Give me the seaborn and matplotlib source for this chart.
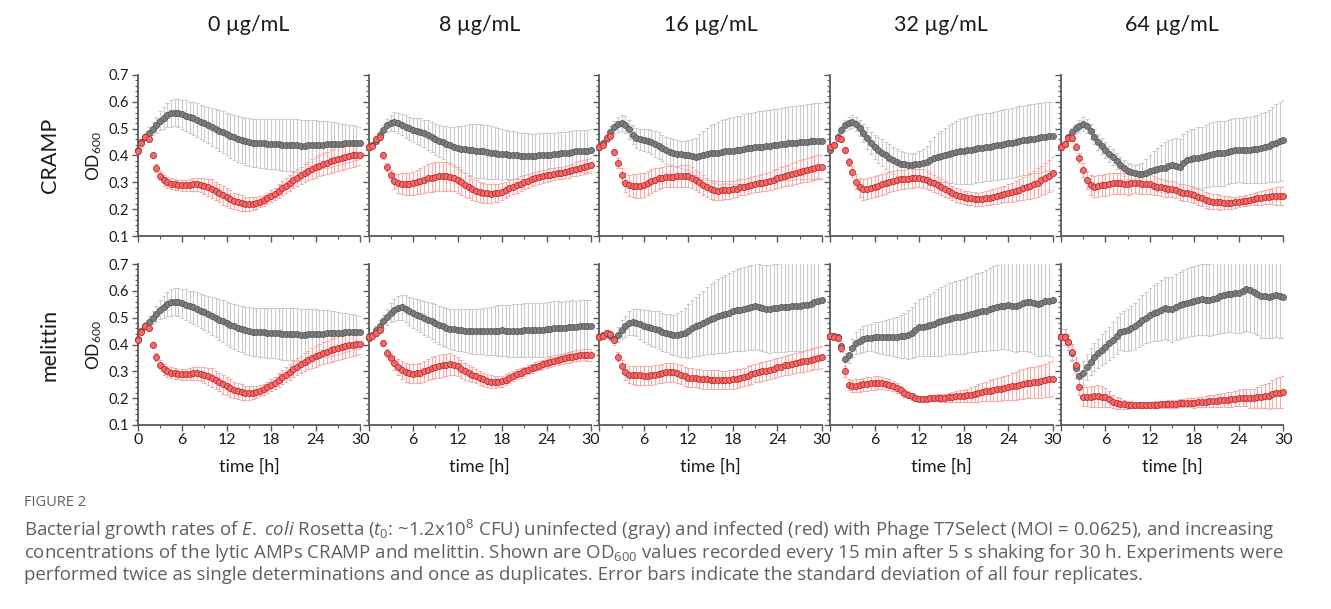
import numpy as np
import pandas as pd
import seaborn as sns
import matplotlib.pyplot as plt
from matplotlib.ticker import MultipleLocator

sns.set_style("ticks")
plt.rcParams['font.family'] = ['Lato', 'DejaVu Sans']
plt.rcParams['mathtext.fontset'] = 'custom'
plt.rcParams['mathtext.rm'] = 'Open Sans'
plt.rcParams['mathtext.it'] = 'Open Sans:italic'

# time points (h), one reading every 30 min
hours = np.arange(0, 30.5, 0.5)

concentrations = ["0 µg/mL", "8 µg/mL", "16 µg/mL", "32 µg/mL", "64 µg/mL"]
amps = ["CRAMP", "melittin"]

# ---- 0 ug/mL (same control for both AMPs) ----
gray_0 = [0.420, 0.450, 0.470, 0.485, 0.500, 0.515, 0.530, 0.540, 0.550, 0.557, 0.560,
          0.558, 0.553, 0.548, 0.543, 0.538, 0.532, 0.526, 0.520, 0.513, 0.506,
          0.500, 0.493, 0.486, 0.480, 0.474, 0.468, 0.462, 0.457, 0.453, 0.450,
          0.448, 0.447, 0.446, 0.445, 0.444, 0.443, 0.442, 0.441, 0.440, 0.440,
          0.439, 0.438, 0.438, 0.437, 0.437, 0.438, 0.438, 0.439, 0.440, 0.440,
          0.441, 0.442, 0.442, 0.443, 0.444, 0.445, 0.445, 0.446, 0.447, 0.447]
gray_0_sd = [0.005, 0.010, 0.015, 0.020, 0.025, 0.030, 0.035, 0.040, 0.045, 0.050, 0.050,
             0.052, 0.055, 0.057, 0.058, 0.060, 0.062, 0.064, 0.066, 0.068, 0.070,
             0.072, 0.075, 0.078, 0.080, 0.082, 0.083, 0.085, 0.086, 0.087, 0.088,
             0.089, 0.090, 0.091, 0.092, 0.093, 0.094, 0.094, 0.095, 0.096, 0.096,
             0.097, 0.097, 0.097, 0.097, 0.096, 0.095, 0.094, 0.092, 0.090, 0.088,
             0.086, 0.084, 0.081, 0.078, 0.075, 0.072, 0.069, 0.066, 0.063, 0.060]
red_0 = [0.415, 0.445, 0.470, 0.460, 0.400, 0.355, 0.325, 0.308, 0.300, 0.295, 0.292,
         0.290, 0.289, 0.289, 0.290, 0.292, 0.293, 0.291, 0.287, 0.282, 0.276,
         0.268, 0.260, 0.252, 0.245, 0.238, 0.232, 0.227, 0.223, 0.221, 0.220,
         0.221, 0.224, 0.228, 0.233, 0.240, 0.248, 0.257, 0.267, 0.278, 0.288,
         0.298, 0.308, 0.317, 0.326, 0.334, 0.342, 0.349, 0.356, 0.362, 0.368,
         0.373, 0.378, 0.383, 0.387, 0.391, 0.395, 0.398, 0.400, 0.402, 0.403]
red_0_sd = [0.010, 0.010, 0.010, 0.010, 0.010, 0.015, 0.018, 0.020, 0.020, 0.020, 0.020,
            0.020, 0.020, 0.021, 0.022, 0.023, 0.025, 0.027, 0.030, 0.032, 0.035,
            0.035, 0.035, 0.035, 0.035, 0.033, 0.030, 0.029, 0.028, 0.026, 0.025,
            0.024, 0.022, 0.021, 0.020, 0.021, 0.022, 0.023, 0.025, 0.027, 0.028,
            0.029, 0.030, 0.031, 0.032, 0.033, 0.035, 0.037, 0.038, 0.039, 0.040,
            0.041, 0.042, 0.043, 0.044, 0.044, 0.044, 0.043, 0.042, 0.041, 0.040]

# ---- CRAMP ----
gray_cramp8 = [0.430, 0.440, 0.455, 0.475, 0.495, 0.512, 0.522, 0.526, 0.522, 0.515, 0.508,
               0.501, 0.495, 0.492, 0.488, 0.482, 0.476, 0.468, 0.461, 0.455, 0.449,
               0.443, 0.438, 0.433, 0.429, 0.425, 0.423, 0.421, 0.419, 0.418, 0.417,
               0.415, 0.413, 0.411, 0.409, 0.407, 0.405, 0.404, 0.402, 0.401, 0.400,
               0.399, 0.398, 0.398, 0.398, 0.399, 0.400, 0.401, 0.402, 0.403, 0.405,
               0.406, 0.408, 0.409, 0.411, 0.413, 0.415, 0.416, 0.417, 0.418, 0.419]
gray_cramp8_sd = [0.005, 0.008, 0.012, 0.016, 0.020, 0.025, 0.030, 0.035, 0.038, 0.040, 0.042,
                  0.043, 0.045, 0.048, 0.050, 0.052, 0.055, 0.056, 0.058, 0.060, 0.062,
                  0.066, 0.070, 0.075, 0.080, 0.085, 0.090, 0.095, 0.100, 0.100, 0.100,
                  0.100, 0.100, 0.099, 0.098, 0.096, 0.095, 0.092, 0.090, 0.089, 0.088,
                  0.086, 0.085, 0.084, 0.083, 0.082, 0.082, 0.081, 0.080, 0.080, 0.080,
                  0.080, 0.080, 0.080, 0.080, 0.080, 0.080, 0.079, 0.079, 0.078, 0.078]
red_cramp8 = [0.430, 0.435, 0.462, 0.468, 0.400, 0.358, 0.327, 0.305, 0.297, 0.295, 0.294,
              0.294, 0.296, 0.300, 0.305, 0.310, 0.315, 0.318, 0.321, 0.322, 0.322,
              0.322, 0.320, 0.316, 0.309, 0.300, 0.290, 0.282, 0.274, 0.268, 0.264,
              0.261, 0.259, 0.258, 0.259, 0.261, 0.265, 0.271, 0.278, 0.284, 0.290,
              0.295, 0.300, 0.306, 0.311, 0.315, 0.319, 0.323, 0.326, 0.329, 0.331,
              0.334, 0.336, 0.339, 0.342, 0.346, 0.349, 0.353, 0.358, 0.361, 0.363]
red_cramp8_sd = [0.010, 0.010, 0.010, 0.010, 0.012, 0.014, 0.020, 0.030, 0.035, 0.038, 0.040,
                 0.041, 0.042, 0.045, 0.048, 0.050, 0.052, 0.054, 0.055, 0.055, 0.055,
                 0.054, 0.052, 0.050, 0.048, 0.046, 0.044, 0.042, 0.040, 0.039, 0.038,
                 0.037, 0.036, 0.035, 0.034, 0.033, 0.032, 0.031, 0.030, 0.029, 0.028,
                 0.027, 0.026, 0.026, 0.025, 0.025, 0.024, 0.024, 0.023, 0.023, 0.023,
                 0.023, 0.023, 0.023, 0.024, 0.024, 0.025, 0.025, 0.026, 0.026, 0.027]

gray_cramp16 = [0.430, 0.445, 0.464, 0.489, 0.505, 0.516, 0.520, 0.514, 0.498, 0.478, 0.466,
                0.461, 0.458, 0.455, 0.451, 0.444, 0.436, 0.428, 0.420, 0.414, 0.410,
                0.407, 0.405, 0.403, 0.402, 0.399, 0.396, 0.399, 0.402, 0.405, 0.408,
                0.409, 0.410, 0.413, 0.416, 0.417, 0.418, 0.419, 0.420, 0.424, 0.427,
                0.428, 0.430, 0.432, 0.433, 0.435, 0.437, 0.438, 0.439, 0.441, 0.443,
                0.445, 0.447, 0.448, 0.450, 0.451, 0.452, 0.453, 0.454, 0.455, 0.455]
gray_cramp16_sd = [0.005, 0.010, 0.015, 0.020, 0.025, 0.028, 0.030, 0.032, 0.035, 0.037, 0.038,
                   0.039, 0.040, 0.042, 0.045, 0.048, 0.050, 0.050, 0.050, 0.050, 0.050,
                   0.050, 0.050, 0.052, 0.055, 0.062, 0.070, 0.080, 0.090, 0.098, 0.105,
                   0.110, 0.115, 0.118, 0.120, 0.123, 0.125, 0.127, 0.128, 0.129, 0.130,
                   0.131, 0.132, 0.132, 0.133, 0.133, 0.134, 0.134, 0.135, 0.135, 0.136,
                   0.136, 0.137, 0.137, 0.138, 0.138, 0.139, 0.139, 0.140, 0.140, 0.140]
red_cramp16 = [0.430, 0.440, 0.464, 0.472, 0.414, 0.372, 0.327, 0.298, 0.289, 0.287, 0.287,
               0.288, 0.290, 0.297, 0.305, 0.310, 0.315, 0.318, 0.321, 0.321, 0.321,
               0.322, 0.324, 0.324, 0.324, 0.317, 0.309, 0.300, 0.290, 0.282, 0.274,
               0.271, 0.269, 0.270, 0.271, 0.272, 0.274, 0.277, 0.281, 0.283, 0.286,
               0.290, 0.294, 0.296, 0.299, 0.302, 0.306, 0.310, 0.315, 0.320, 0.324,
               0.327, 0.331, 0.335, 0.340, 0.343, 0.346, 0.349, 0.353, 0.356, 0.358]
red_cramp16_sd = [0.010, 0.010, 0.010, 0.010, 0.012, 0.018, 0.025, 0.035, 0.040, 0.043, 0.045,
                  0.045, 0.045, 0.044, 0.043, 0.042, 0.040, 0.040, 0.040, 0.040, 0.040,
                  0.040, 0.040, 0.040, 0.040, 0.039, 0.038, 0.037, 0.036, 0.035, 0.035,
                  0.035, 0.035, 0.034, 0.034, 0.033, 0.032, 0.031, 0.030, 0.030, 0.030,
                  0.030, 0.030, 0.031, 0.032, 0.033, 0.034, 0.035, 0.036, 0.037, 0.038,
                  0.039, 0.040, 0.041, 0.042, 0.043, 0.044, 0.044, 0.045, 0.045, 0.045]

gray_cramp32 = [0.420, 0.440, 0.470, 0.495, 0.512, 0.522, 0.526, 0.518, 0.502, 0.484, 0.466,
                0.447, 0.432, 0.420, 0.410, 0.400, 0.391, 0.382, 0.375, 0.370, 0.367,
                0.366, 0.366, 0.368, 0.370, 0.373, 0.377, 0.383, 0.390, 0.394, 0.398,
                0.402, 0.406, 0.409, 0.412, 0.415, 0.417, 0.419, 0.421, 0.424, 0.427,
                0.429, 0.431, 0.433, 0.435, 0.438, 0.440, 0.443, 0.445, 0.448, 0.451,
                0.453, 0.456, 0.458, 0.461, 0.463, 0.466, 0.468, 0.470, 0.472, 0.473]
gray_cramp32_sd = [0.005, 0.008, 0.012, 0.016, 0.020, 0.022, 0.025, 0.027, 0.030, 0.035, 0.040,
                   0.042, 0.045, 0.048, 0.050, 0.050, 0.050, 0.050, 0.050, 0.048, 0.045,
                   0.042, 0.040, 0.042, 0.045, 0.052, 0.060, 0.070, 0.080, 0.088, 0.095,
                   0.102, 0.108, 0.113, 0.118, 0.121, 0.124, 0.125, 0.126, 0.127, 0.127,
                   0.127, 0.127, 0.127, 0.127, 0.128, 0.128, 0.129, 0.129, 0.130, 0.130,
                   0.130, 0.130, 0.130, 0.130, 0.130, 0.130, 0.129, 0.129, 0.128, 0.128]
red_cramp32 = [0.430, 0.440, 0.464, 0.460, 0.420, 0.377, 0.340, 0.302, 0.281, 0.274, 0.277,
               0.280, 0.284, 0.288, 0.292, 0.297, 0.302, 0.306, 0.309, 0.311, 0.312,
               0.314, 0.315, 0.316, 0.316, 0.313, 0.309, 0.303, 0.296, 0.290, 0.284,
               0.276, 0.269, 0.261, 0.253, 0.248, 0.244, 0.242, 0.240, 0.238, 0.237,
               0.238, 0.240, 0.243, 0.246, 0.249, 0.253, 0.256, 0.259, 0.263, 0.268,
               0.273, 0.278, 0.282, 0.286, 0.292, 0.299, 0.307, 0.315, 0.324, 0.333]
red_cramp32_sd = [0.010, 0.010, 0.010, 0.010, 0.012, 0.015, 0.020, 0.028, 0.035, 0.038, 0.040,
                  0.040, 0.040, 0.040, 0.040, 0.039, 0.038, 0.037, 0.036, 0.036, 0.035,
                  0.035, 0.035, 0.035, 0.035, 0.035, 0.034, 0.033, 0.032, 0.031, 0.030,
                  0.029, 0.028, 0.027, 0.026, 0.026, 0.025, 0.025, 0.025, 0.025, 0.025,
                  0.025, 0.026, 0.027, 0.028, 0.029, 0.030, 0.031, 0.033, 0.035, 0.037,
                  0.040, 0.042, 0.045, 0.048, 0.050, 0.053, 0.055, 0.058, 0.059, 0.060]

gray_cramp64 = [0.430, 0.443, 0.468, 0.489, 0.501, 0.510, 0.517, 0.510, 0.490, 0.470, 0.451,
                0.435, 0.420, 0.406, 0.393, 0.378, 0.364, 0.352, 0.343, 0.337, 0.333,
                0.331, 0.331, 0.336, 0.343, 0.346, 0.348, 0.352, 0.355, 0.360, 0.363,
                0.362, 0.358, 0.372, 0.383, 0.387, 0.390, 0.392, 0.393, 0.398, 0.402,
                0.405, 0.408, 0.408, 0.408, 0.413, 0.417, 0.419, 0.420, 0.420, 0.420,
                0.422, 0.424, 0.425, 0.427, 0.431, 0.435, 0.441, 0.448, 0.453, 0.458]
gray_cramp64_sd = [0.005, 0.008, 0.012, 0.015, 0.018, 0.022, 0.025, 0.026, 0.028, 0.029, 0.030,
                   0.030, 0.030, 0.030, 0.030, 0.030, 0.030, 0.030, 0.030, 0.031, 0.032,
                   0.036, 0.040, 0.050, 0.060, 0.070, 0.080, 0.088, 0.095, 0.098, 0.100,
                   0.102, 0.105, 0.108, 0.110, 0.110, 0.110, 0.113, 0.115, 0.117, 0.118,
                   0.119, 0.120, 0.120, 0.120, 0.120, 0.120, 0.120, 0.120, 0.121, 0.122,
                   0.123, 0.125, 0.127, 0.130, 0.132, 0.135, 0.140, 0.145, 0.148, 0.150]
red_cramp64 = [0.430, 0.443, 0.464, 0.464, 0.433, 0.390, 0.346, 0.309, 0.290, 0.284, 0.287,
               0.289, 0.290, 0.293, 0.296, 0.296, 0.296, 0.295, 0.294, 0.297, 0.299,
               0.297, 0.294, 0.293, 0.292, 0.288, 0.284, 0.281, 0.278, 0.276, 0.274,
               0.270, 0.265, 0.262, 0.259, 0.256, 0.253, 0.246, 0.240, 0.235, 0.230,
               0.228, 0.227, 0.225, 0.224, 0.224, 0.224, 0.226, 0.228, 0.230, 0.232,
               0.235, 0.237, 0.240, 0.242, 0.244, 0.246, 0.248, 0.249, 0.249, 0.249]
red_cramp64_sd = [0.010, 0.010, 0.010, 0.010, 0.012, 0.018, 0.025, 0.032, 0.038, 0.040, 0.040,
                  0.040, 0.040, 0.040, 0.040, 0.040, 0.040, 0.040, 0.040, 0.040, 0.040,
                  0.039, 0.038, 0.037, 0.035, 0.034, 0.033, 0.032, 0.031, 0.030, 0.030,
                  0.030, 0.030, 0.030, 0.030, 0.030, 0.030, 0.030, 0.030, 0.030, 0.030,
                  0.029, 0.028, 0.027, 0.025, 0.024, 0.022, 0.021, 0.020, 0.020, 0.020,
                  0.021, 0.022, 0.023, 0.025, 0.026, 0.028, 0.030, 0.032, 0.034, 0.035]

# ---- melittin ----
gray_mel8 = [0.424, 0.434, 0.455, 0.470, 0.486, 0.501, 0.518, 0.528, 0.535, 0.538, 0.533,
             0.525, 0.517, 0.511, 0.505, 0.499, 0.493, 0.487, 0.480, 0.474, 0.468,
             0.463, 0.459, 0.456, 0.454, 0.453, 0.452, 0.450, 0.449, 0.449, 0.449,
             0.449, 0.449, 0.450, 0.452, 0.452, 0.453, 0.452, 0.452, 0.452, 0.452,
             0.452, 0.453, 0.453, 0.454, 0.454, 0.454, 0.455, 0.457, 0.459, 0.461,
             0.461, 0.461, 0.463, 0.465, 0.466, 0.466, 0.468, 0.469, 0.469, 0.469]
gray_mel8_sd = [0.005, 0.010, 0.015, 0.020, 0.025, 0.030, 0.035, 0.040, 0.045, 0.047, 0.050,
                0.052, 0.055, 0.058, 0.060, 0.062, 0.065, 0.068, 0.070, 0.071, 0.072,
                0.073, 0.075, 0.077, 0.078, 0.079, 0.080, 0.082, 0.083, 0.084, 0.085,
                0.086, 0.088, 0.090, 0.092, 0.094, 0.095, 0.096, 0.097, 0.099, 0.100,
                0.100, 0.100, 0.100, 0.100, 0.100, 0.100, 0.100, 0.100, 0.100, 0.100,
                0.100, 0.099, 0.099, 0.098, 0.098, 0.097, 0.097, 0.096, 0.096, 0.095]
red_mel8 = [0.427, 0.430, 0.443, 0.455, 0.405, 0.368, 0.350, 0.331, 0.315, 0.305, 0.297,
            0.293, 0.291, 0.292, 0.294, 0.300, 0.306, 0.311, 0.316, 0.319, 0.322,
            0.325, 0.327, 0.324, 0.319, 0.310, 0.300, 0.294, 0.288, 0.282, 0.275,
            0.270, 0.265, 0.262, 0.260, 0.261, 0.263, 0.269, 0.275, 0.283, 0.290,
            0.295, 0.300, 0.306, 0.312, 0.317, 0.321, 0.326, 0.331, 0.334, 0.337,
            0.342, 0.346, 0.349, 0.352, 0.355, 0.358, 0.360, 0.362, 0.362, 0.362]
red_mel8_sd = [0.010, 0.010, 0.010, 0.010, 0.012, 0.016, 0.020, 0.025, 0.030, 0.033, 0.035,
               0.035, 0.035, 0.036, 0.037, 0.038, 0.040, 0.041, 0.042, 0.042, 0.042,
               0.041, 0.040, 0.038, 0.036, 0.034, 0.032, 0.030, 0.028, 0.026, 0.025,
               0.024, 0.024, 0.023, 0.022, 0.021, 0.020, 0.020, 0.020, 0.019, 0.018,
               0.018, 0.018, 0.017, 0.017, 0.017, 0.017, 0.017, 0.018, 0.018, 0.018,
               0.018, 0.019, 0.019, 0.020, 0.020, 0.020, 0.021, 0.021, 0.022, 0.022]

gray_mel16 = [0.428, 0.434, 0.443, 0.430, 0.420, 0.436, 0.455, 0.468, 0.479, 0.484, 0.481,
              0.476, 0.470, 0.466, 0.461, 0.457, 0.453, 0.448, 0.443, 0.439, 0.436,
              0.436, 0.439, 0.444, 0.451, 0.460, 0.468, 0.474, 0.480, 0.488, 0.495,
              0.500, 0.505, 0.510, 0.514, 0.519, 0.524, 0.527, 0.530, 0.533, 0.536,
              0.539, 0.542, 0.539, 0.536, 0.534, 0.533, 0.535, 0.536, 0.538, 0.539,
              0.540, 0.542, 0.543, 0.545, 0.546, 0.548, 0.552, 0.557, 0.561, 0.565]
gray_mel16_sd = [0.005, 0.008, 0.010, 0.015, 0.020, 0.028, 0.035, 0.040, 0.045, 0.047, 0.050,
                 0.055, 0.060, 0.063, 0.065, 0.068, 0.070, 0.071, 0.072, 0.074, 0.075,
                 0.080, 0.085, 0.092, 0.100, 0.105, 0.110, 0.115, 0.120, 0.125, 0.130,
                 0.134, 0.138, 0.142, 0.145, 0.148, 0.150, 0.153, 0.155, 0.157, 0.158,
                 0.159, 0.160, 0.161, 0.162, 0.163, 0.164, 0.164, 0.165, 0.165, 0.166,
                 0.166, 0.167, 0.167, 0.168, 0.169, 0.170, 0.170, 0.170, 0.170, 0.170]
red_mel16 = [0.427, 0.430, 0.443, 0.440, 0.418, 0.355, 0.319, 0.297, 0.288, 0.286, 0.285,
             0.285, 0.284, 0.284, 0.285, 0.287, 0.290, 0.293, 0.296, 0.297, 0.297,
             0.293, 0.287, 0.282, 0.277, 0.276, 0.275, 0.273, 0.271, 0.270, 0.269,
             0.269, 0.269, 0.268, 0.268, 0.269, 0.270, 0.272, 0.275, 0.279, 0.284,
             0.289, 0.294, 0.297, 0.300, 0.303, 0.306, 0.310, 0.315, 0.318, 0.322,
             0.325, 0.327, 0.331, 0.335, 0.338, 0.340, 0.344, 0.347, 0.350, 0.353]
red_mel16_sd = [0.010, 0.010, 0.010, 0.010, 0.012, 0.018, 0.025, 0.030, 0.032, 0.034, 0.035,
                0.035, 0.035, 0.035, 0.035, 0.035, 0.035, 0.035, 0.035, 0.035, 0.035,
                0.035, 0.035, 0.035, 0.035, 0.035, 0.035, 0.035, 0.035, 0.035, 0.035,
                0.035, 0.035, 0.035, 0.035, 0.035, 0.035, 0.035, 0.035, 0.035, 0.035,
                0.035, 0.035, 0.035, 0.035, 0.035, 0.035, 0.035, 0.035, 0.036, 0.037,
                0.037, 0.038, 0.038, 0.038, 0.039, 0.039, 0.039, 0.040, 0.040, 0.040]

gray_mel32 = [0.430, 0.430, 0.428, 0.395, 0.345, 0.362, 0.387, 0.406, 0.414, 0.420, 0.424,
              0.426, 0.427, 0.427, 0.427, 0.427, 0.428, 0.428, 0.428, 0.430, 0.433,
              0.437, 0.443, 0.455, 0.464, 0.466, 0.468, 0.473, 0.477, 0.482, 0.486,
              0.491, 0.496, 0.499, 0.501, 0.503, 0.505, 0.510, 0.514, 0.517, 0.520,
              0.523, 0.526, 0.531, 0.536, 0.539, 0.542, 0.545, 0.548, 0.545, 0.542,
              0.549, 0.555, 0.557, 0.558, 0.554, 0.551, 0.556, 0.561, 0.563, 0.565]
gray_mel32_sd = [0.005, 0.008, 0.010, 0.018, 0.025, 0.030, 0.035, 0.040, 0.045, 0.048, 0.050,
                 0.052, 0.055, 0.058, 0.062, 0.065, 0.068, 0.072, 0.075, 0.080, 0.085,
                 0.090, 0.095, 0.100, 0.105, 0.108, 0.112, 0.116, 0.120, 0.124, 0.127,
                 0.130, 0.133, 0.135, 0.137, 0.139, 0.140, 0.142, 0.143, 0.144, 0.145,
                 0.148, 0.150, 0.153, 0.155, 0.158, 0.160, 0.163, 0.167, 0.169, 0.170,
                 0.174, 0.178, 0.182, 0.185, 0.190, 0.195, 0.198, 0.200, 0.205, 0.210]
red_mel32 = [0.430, 0.428, 0.424, 0.387, 0.300, 0.250, 0.244, 0.247, 0.248, 0.251, 0.253,
             0.255, 0.257, 0.257, 0.257, 0.254, 0.250, 0.245, 0.238, 0.229, 0.219,
             0.213, 0.207, 0.202, 0.198, 0.198, 0.198, 0.200, 0.201, 0.201, 0.201,
             0.202, 0.203, 0.205, 0.207, 0.207, 0.208, 0.210, 0.213, 0.216, 0.219,
             0.222, 0.225, 0.228, 0.230, 0.233, 0.235, 0.238, 0.240, 0.244, 0.247,
             0.250, 0.253, 0.255, 0.257, 0.259, 0.260, 0.263, 0.266, 0.270, 0.273]
red_mel32_sd = [0.010, 0.010, 0.010, 0.015, 0.020, 0.021, 0.022, 0.024, 0.025, 0.025, 0.025,
                0.025, 0.025, 0.024, 0.023, 0.022, 0.020, 0.019, 0.018, 0.016, 0.015,
                0.013, 0.012, 0.011, 0.010, 0.010, 0.010, 0.011, 0.012, 0.013, 0.014,
                0.015, 0.016, 0.018, 0.020, 0.022, 0.024, 0.026, 0.028, 0.030, 0.032,
                0.034, 0.036, 0.038, 0.040, 0.042, 0.044, 0.046, 0.048, 0.050, 0.052,
                0.054, 0.055, 0.056, 0.058, 0.059, 0.060, 0.061, 0.062, 0.064, 0.065]

gray_mel64 = [0.429, 0.427, 0.410, 0.367, 0.311, 0.283, 0.293, 0.317, 0.336, 0.352, 0.367,
              0.380, 0.392, 0.405, 0.417, 0.433, 0.448, 0.450, 0.454, 0.461, 0.469,
              0.480, 0.491, 0.500, 0.510, 0.516, 0.522, 0.528, 0.535, 0.533, 0.531,
              0.539, 0.547, 0.552, 0.556, 0.560, 0.563, 0.566, 0.568, 0.567, 0.566,
              0.570, 0.575, 0.580, 0.584, 0.587, 0.590, 0.592, 0.593, 0.600, 0.606,
              0.602, 0.597, 0.589, 0.581, 0.579, 0.578, 0.581, 0.584, 0.581, 0.578]
gray_mel64_sd = [0.010, 0.015, 0.020, 0.028, 0.035, 0.040, 0.045, 0.048, 0.050, 0.052, 0.055,
                 0.058, 0.060, 0.062, 0.065, 0.068, 0.070, 0.074, 0.078, 0.082, 0.085,
                 0.089, 0.093, 0.096, 0.100, 0.104, 0.108, 0.112, 0.115, 0.118, 0.120,
                 0.122, 0.125, 0.127, 0.128, 0.129, 0.130, 0.131, 0.132, 0.133, 0.133,
                 0.135, 0.136, 0.138, 0.140, 0.142, 0.145, 0.148, 0.150, 0.152, 0.155,
                 0.155, 0.155, 0.155, 0.155, 0.155, 0.155, 0.155, 0.155, 0.155, 0.155]
red_mel64 = [0.427, 0.427, 0.410, 0.373, 0.324, 0.243, 0.206, 0.206, 0.206, 0.207, 0.208,
             0.206, 0.203, 0.196, 0.187, 0.182, 0.179, 0.177, 0.175, 0.175, 0.175,
             0.175, 0.174, 0.174, 0.175, 0.176, 0.176, 0.177, 0.178, 0.178, 0.178,
             0.180, 0.181, 0.182, 0.183, 0.183, 0.183, 0.185, 0.186, 0.187, 0.188,
             0.189, 0.190, 0.192, 0.193, 0.195, 0.196, 0.198, 0.199, 0.201, 0.202,
             0.200, 0.199, 0.203, 0.206, 0.207, 0.208, 0.214, 0.220, 0.221, 0.222]
red_mel64_sd = [0.030, 0.030, 0.030, 0.030, 0.030, 0.032, 0.035, 0.037, 0.040, 0.040, 0.040,
                0.038, 0.035, 0.030, 0.025, 0.022, 0.020, 0.017, 0.015, 0.013, 0.012,
                0.012, 0.012, 0.012, 0.012, 0.012, 0.012, 0.013, 0.013, 0.014, 0.014,
                0.015, 0.015, 0.016, 0.016, 0.017, 0.018, 0.019, 0.020, 0.021, 0.022,
                0.023, 0.024, 0.025, 0.026, 0.027, 0.028, 0.029, 0.030, 0.032, 0.033,
                0.035, 0.037, 0.040, 0.042, 0.045, 0.048, 0.052, 0.055, 0.058, 0.060]

panels = {
    "CRAMP": [(gray_0, gray_0_sd, red_0, red_0_sd),
              (gray_cramp8, gray_cramp8_sd, red_cramp8, red_cramp8_sd),
              (gray_cramp16, gray_cramp16_sd, red_cramp16, red_cramp16_sd),
              (gray_cramp32, gray_cramp32_sd, red_cramp32, red_cramp32_sd),
              (gray_cramp64, gray_cramp64_sd, red_cramp64, red_cramp64_sd)],
    "melittin": [(gray_0, gray_0_sd, red_0, red_0_sd),
                 (gray_mel8, gray_mel8_sd, red_mel8, red_mel8_sd),
                 (gray_mel16, gray_mel16_sd, red_mel16, red_mel16_sd),
                 (gray_mel32, gray_mel32_sd, red_mel32, red_mel32_sd),
                 (gray_mel64, gray_mel64_sd, red_mel64, red_mel64_sd)],
}

W, H = 1331, 609
fig = plt.figure(figsize=(W / 100, H / 100), dpi=100)

axis_col = "#595959"
bottoms = [236, 425]          # px of x axis line
panel_h = 161
panel_w = 222.5

for r, amp in enumerate(amps):
    for c, conc in enumerate(concentrations):
        left = 137.7 + 230.8 * c
        ax = fig.add_axes([left / W, 1 - bottoms[r] / H, panel_w / W, panel_h / H])
        g, gsd, rd, rsd = panels[amp][c]
        df = pd.DataFrame({"t": hours, "gray": g, "gray_sd": gsd, "red": rd, "red_sd": rsd})

        ax.errorbar(df["t"], df["gray"], yerr=df["gray_sd"], fmt="none", ecolor="#cbcbcb",
                    elinewidth=0.8, capsize=1.4, capthick=0.8, zorder=1)
        ax.errorbar(df["t"], df["red"], yerr=df["red_sd"], fmt="none", ecolor="#f7aaaa",
                    elinewidth=0.8, capsize=1.4, capthick=0.8, zorder=2)
        sns.scatterplot(data=df, x="t", y="gray", ax=ax, color="#7c7c7c", edgecolor="#5a5a5a",
                        s=19, linewidth=0.6, zorder=3, clip_on=False)
        sns.scatterplot(data=df, x="t", y="red", ax=ax, color="#ee6b6b", edgecolor="#c62828",
                        s=19, linewidth=0.6, zorder=4, clip_on=False)

        ax.set_xlim(0, 30)
        ax.set_ylim(0.1, 0.7)
        ax.set_xlabel("")
        ax.set_ylabel("")
        ax.set_xticks([0, 6, 12, 18, 24, 30])
        ax.xaxis.set_minor_locator(MultipleLocator(3))
        ax.set_yticks([0.1, 0.2, 0.3, 0.4, 0.5, 0.6, 0.7])
        ax.yaxis.set_minor_locator(MultipleLocator(0.02))
        sns.despine(ax=ax)
        for s in ["left", "bottom"]:
            ax.spines[s].set_color(axis_col)
            ax.spines[s].set_linewidth(1.3)
        ax.tick_params(which="major", direction="out", length=4, width=1, color=axis_col, pad=2)
        ax.tick_params(which="minor", direction="out", length=2.2, width=0.8, color=axis_col)
        ax.tick_params(axis="x", labelsize=11.5, labelcolor="#1a1a1a")
        ax.tick_params(axis="y", labelsize=10.5, labelcolor="#1a1a1a")

        if c == 0:
            ax.set_yticklabels(["0.1", "0.2", "0.3", "0.4", "0.5", "0.6", "0.7"])
        else:
            ax.tick_params(axis="y", labelleft=False)
        if r == 0:
            ax.tick_params(axis="x", labelbottom=False)
        else:
            labels = ["0", "6", "12", "18", "24", "30"]
            if c > 0:
                labels[0] = ""
            ax.set_xticklabels(labels)
            fig.text((left + panel_w / 2) / W, 1 - 467 / H, "time [h]", ha="center", va="center",
                     fontsize=13, color="#1a1a1a")

        if r == 0:
            fig.text((left + panel_w / 2) / W, 1 - 25 / H, conc, ha="center", va="center",
                     fontsize=15.5, color="#1a1a1a")

    ymid = 1 - (bottoms[r] - panel_h / 2) / H
    fig.text(50 / W, ymid, amp, rotation=90, ha="center", va="center", fontsize=15.5, color="#1a1a1a")
    fig.text(94 / W, ymid, "OD$_\\mathregular{600}$", rotation=90, ha="center", va="center",
             fontsize=12.5, color="#1a1a1a")

# caption
cap_col = "#5f5f5f"
fig.text(24 / W, 1 - 503 / H, "FIGURE 2", ha="left", va="center", fontsize=10.5,
         color=cap_col, family="Open Sans")
caption_lines = [
    r"Bacterial growth rates of $\mathit{E.}$ $\mathit{coli}$ Rosetta ($\mathit{t}_\mathregular{0}$: ~1.2x10$^\mathregular{8}$ CFU) uninfected (gray) and infected (red) with Phage T7Select (MOI = 0.0625), and increasing",
    r"concentrations of the lytic AMPs CRAMP and melittin. Shown are OD$_\mathregular{600}$ values recorded every 15 min after 5 s shaking for 30 h. Experiments were",
    "performed twice as single determinations and once as duplicates. Error bars indicate the standard deviation of all four replicates.",
]
for i, line in enumerate(caption_lines):
    fig.text(24 / W, 1 - (530 + 22.5 * i) / H, line, ha="left", va="center", fontsize=13.4,
             color=cap_col, family="Open Sans")

fig.savefig("out.png", dpi=100)
